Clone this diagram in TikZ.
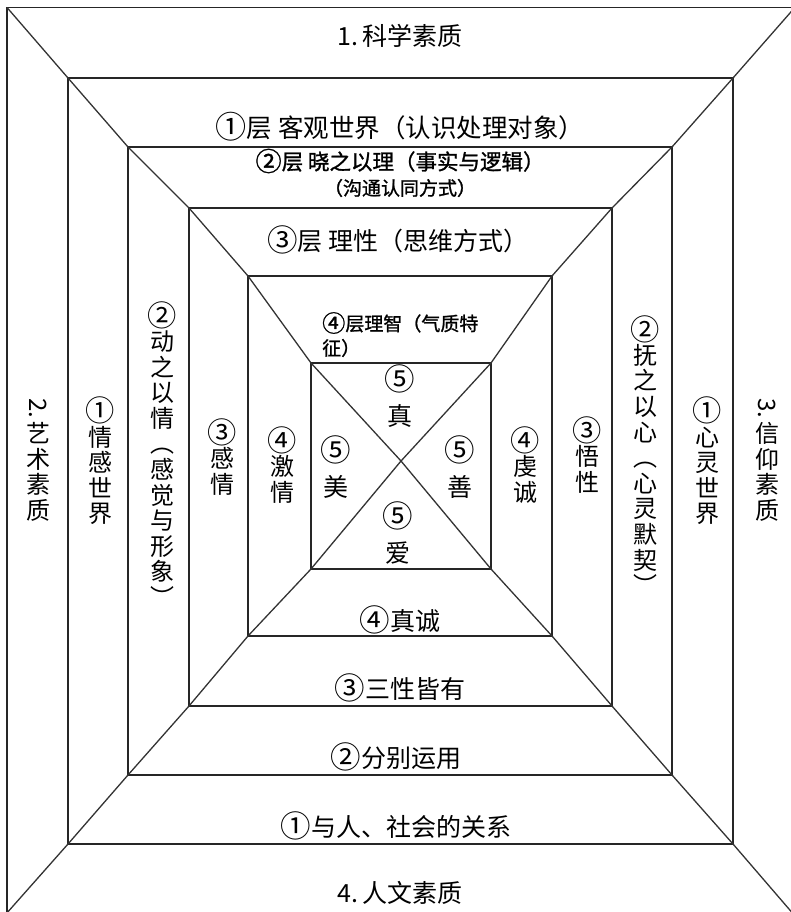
\documentclass[tikz,border=0pt]{standalone}
\usepackage{fontspec}
\usepackage{graphicx}
\setmainfont{Noto Sans CJK SC}
\newfontfamily\cjkb[FakeBold=1.2]{Noto Sans CJK SC}
\newcommand\vrot[1]{\rotatebox[origin=c]{-90}{#1}}
\newcommand\cn[1]{\raisebox{-0.06em}{\scalebox{1.22}{#1}}}
\begin{document}
\begin{tikzpicture}[x=1pt,y=-1pt,
  frame/.style={line width=1.5pt,draw=black!85},
  diag/.style={line width=1.3pt,draw=black!80},
  hl/.style={inner sep=0pt,font={\fontsize{25}{28}\selectfont}},
  hlw/.style={inner sep=0pt,font={\fontsize{25.5}{28}\selectfont}},
  hls/.style={inner sep=0pt,font={\cjkb\fontsize{21.5}{24}\selectfont}},
  hlt/.style={inner sep=0pt,font={\cjkb\fontsize{19}{24}\selectfont}},
  vl/.style={inner sep=0pt,align=center,font={\fontsize{24}{25.6}\selectfont\lineskiplimit=-50pt}},
  il/.style={inner sep=0pt,align=center,font={\fontsize{25}{36}\selectfont\lineskiplimit=-50pt}},
]
\useasboundingbox (0,0) rectangle (791,912);
\clip (0,0) rectangle (791,912);
% corners
\coordinate (o1) at (7,7.5);   \coordinate (o2) at (795,916);
\coordinate (p1) at (68,78);   \coordinate (p2) at (733,844);
\coordinate (q1) at (128,147); \coordinate (q2) at (672,775);
\coordinate (r1) at (189,208); \coordinate (r2) at (612,706);
\coordinate (s1) at (248,276); \coordinate (s2) at (552,636);
\coordinate (u1) at (311,363); \coordinate (u2) at (491,569);
\coordinate (c) at (401,461);
% rectangles
\draw[frame] (o1) rectangle (o2);
\draw[frame] (p1) rectangle (p2);
\draw[frame] (q1) rectangle (q2);
\draw[frame] (r1) rectangle (r2);
\draw[frame] (s1) rectangle (s2);
\draw[frame] (u1) rectangle (u2);
% diagonals
\draw[diag] (o1) -- (p1) -- (q1) -- (r1) -- (s1) -- (u1) -- (c);
\draw[diag] (797,5) -- (p2 |- p1) -- (q2 |- q1) -- (r2 |- r1) -- (s2 |- s1) -- (u2 |- u1) -- (c);
\draw[diag] (6,914) -- (p1 |- p2) -- (q1 |- q2) -- (r1 |- r2) -- (s1 |- s2) -- (u1 |- u2) -- (c);
\draw[diag] (o2) -- (p2) -- (q2) -- (r2) -- (s2) -- (u2) -- (c);
% horizontal labels
\node[hl] (t1) at (400,36) {1.\,科学素质};
\node[hlw] (a1) at (400,127) {\cn{①}层 客观世界（认识处理对象）};
\node[hls] (a2) at (400,161) {\cn{②}层 晓之以理（事实与逻辑）};
\node[hlt] (a2b) at (400,188) {（沟通认同方式）};
\node[hl] (a3) at (398,240) {\cn{③}层 理性（思维方式）};
\node[hlt,anchor=west] (a4) at (322,323) {\cn{④}层理智（气质特};
\node[hlt,anchor=west] (a4b) at (322,348) {征）};
\node[hl] (b4) at (400,620) {\cn{④}真诚};
\node[hl] (b3) at (400,688) {\cn{③}三性皆有};
\node[hl] (b2) at (396,757) {\cn{②}分别运用};
\node[hl] (b1) at (396,826) {\cn{①}与人、社会的关系};
\node[hl] (t4) at (400,893) {4.\,人文素质};
% vertical labels
\node[vl] (t2) at (38,460) {\vrot{2.}\\艺\\术\\素\\质};
\node[vl] (l1) at (100,461) {\cn{①}\\情\\感\\世\\界};
\node[vl] (l2) at (162,454) {\cn{②}\\动\\之\\以\\情\\︵\\感\\觉\\与\\形\\象\\︶};
\node[vl] (l3) at (222,457) {\cn{③}\\感\\情};
\node[vl] (l4) at (282,465) {\cn{④}\\激\\情};
\node[vl] (rr4) at (525,465) {\cn{④}\\虔\\诚};
\node[vl] (rr3) at (587,455) {\cn{③}\\悟\\性};
\node[vl] (rr2) at (645,455) {\cn{②}\\抚\\之\\以\\心\\︵\\心\\灵\\默\\契\\︶};
\node[vl] (rr1) at (707,461) {\cn{①}\\心\\灵\\世\\界};
\node[vl] (t3) at (767,460) {\vrot{3.}\\信\\仰\\素\\质};
% inner labels
\node[il] (i1) at (400,396) {\cn{⑤}\\真};
\node[il] (i2) at (336,467) {\cn{⑤}\\美};
\node[il] (i3) at (460,467) {\cn{⑤}\\善};
\node[il] (i4) at (398,533) {\cn{⑤}\\爱};
\end{tikzpicture}
\end{document}
